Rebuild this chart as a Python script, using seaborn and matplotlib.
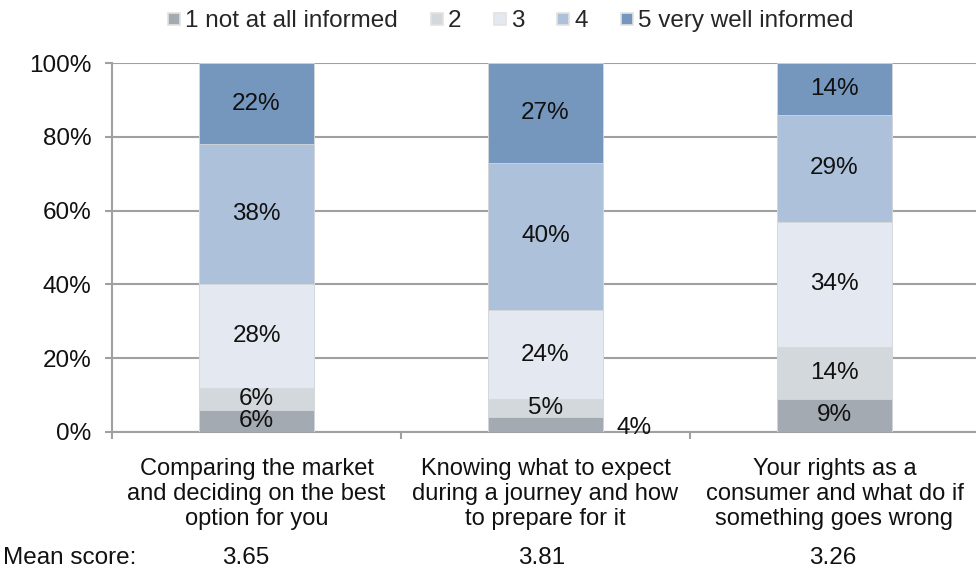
import numpy as np
import pandas as pd
import matplotlib
matplotlib.use("Agg")
import matplotlib.pyplot as plt
from matplotlib.lines import Line2D
import seaborn as sns

# Survey topics and share of respondents per information score
categories = [
    "Comparing the market\nand deciding on the best\noption for you",
    "Knowing what to expect\nduring a journey and how\nto prepare for it",
    "Your rights as a\nconsumer and what do if\nsomething goes wrong",
]
levels = ["1 not at all informed", "2", "3", "4", "5 very well informed"]
score_1 = [6, 4, 9]
score_2 = [6, 5, 14]
score_3 = [28, 24, 34]
score_4 = [38, 40, 29]
score_5 = [22, 27, 14]
mean_scores = ["3.65", "3.81", "3.26"]

colors = ["#A3AAB2", "#D3D8DC", "#E4E9F1", "#ADC1DB", "#7597BD"]
FS = 17.5

sns.set_theme(style="white")
plt.rcParams["font.family"] = ["Liberation Sans", "DejaVu Sans"]

series = [score_1, score_2, score_3, score_4, score_5]
df = pd.DataFrame({"topic": categories})
for lvl, vals in zip(levels, series):
    df[lvl] = vals
cum = df[levels].cumsum(axis=1)

fig = plt.figure(figsize=(9.76, 5.71), dpi=100)
ax = fig.add_axes([112 / 976, 1 - 432 / 571, 867 / 976, 369 / 571])

# Stack by overlaying cumulative totals, tallest first
for i in range(len(levels) - 1, -1, -1):
    sns.barplot(x=df["topic"], y=cum[levels[i]], color=colors[i], width=0.4,
                saturation=1, ax=ax, zorder=3, edgecolor="#D6D8DA", linewidth=0.6)

ax.set_xlim(-0.5, 2.5)
ax.set_ylim(0, 100)
ax.set_xlabel("")
ax.set_ylabel("")

# Value labels centred in each segment
for j in range(len(categories)):
    bottom = 0
    for i, lvl in enumerate(levels):
        v = df.loc[j, lvl]
        xpos, ypos = j, bottom + v / 2
        if j == 1 and i == 0:
            xpos, ypos = j + 0.305, bottom + v / 2 - 0.8
        ax.text(xpos, ypos, f"{v}%", ha="center", va="center",
                fontsize=FS, color="#111111", zorder=5)
        bottom += v

# Axes styling
grid_c = "#A0A0A0"
ax.set_yticks(np.arange(0, 101, 20))
ax.set_yticklabels([f"{t}%" for t in range(0, 101, 20)], fontsize=FS, color="#111111")
ax.yaxis.grid(True, color=grid_c, linewidth=1.5, zorder=0)
ax.xaxis.grid(False)
for s in ["top", "right"]:
    ax.spines[s].set_visible(False)
for s in ["left", "bottom"]:
    ax.spines[s].set_color(grid_c)
    ax.spines[s].set_linewidth(1.5)
ax.tick_params(axis="y", which="major", left=True, length=5, width=1.5,
               color=grid_c, pad=10)
ax.set_xticks([0, 1, 2])
ax.set_xticklabels(categories, fontsize=17, color="#111111", linespacing=1.16)
ax.set_xticks([-0.5, 0.5, 1.5, 2.5], minor=True)
ax.tick_params(axis="x", which="major", bottom=False, length=0, pad=19)
ax.tick_params(axis="x", which="minor", bottom=True, length=5, width=1.5, color=grid_c)

# Mean score row
row_y = 1 - 558 / 571
fig.text(3 / 976, row_y, "Mean score:", fontsize=FS, va="center",
         ha="left", color="#111111")
for xpix, m in zip([246, 542, 833], mean_scores):
    fig.text(xpix / 976, row_y, m, fontsize=FS, va="center",
             ha="center", color="#111111")

# Legend along the top
handles = [Line2D([0], [0], marker="s", linestyle="", markersize=9,
                  markerfacecolor=c, markeredgecolor="#E2E2E2", markeredgewidth=1.2)
           for c in colors]
fig.legend(handles, levels, loc="center", bbox_to_anchor=(510 / 976, 1 - 21 / 571),
           ncol=5, frameon=False, fontsize=FS, handlelength=0.6, handletextpad=0.15,
           columnspacing=1.3, borderaxespad=0)

fig.savefig("out.png", dpi=100)
